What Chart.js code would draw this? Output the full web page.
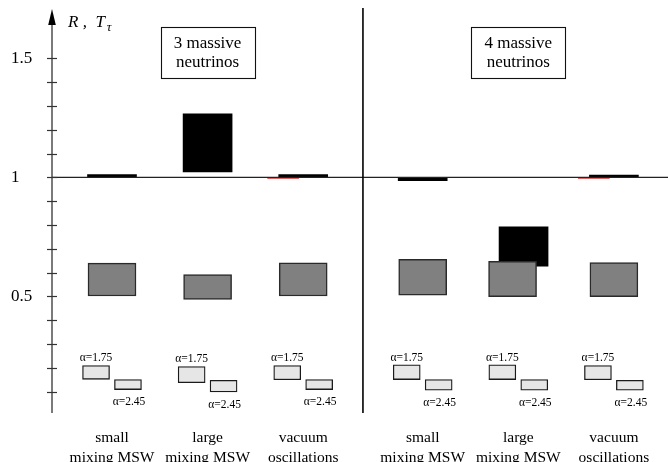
<!DOCTYPE html>
<html>
<head>
<meta charset="utf-8">
<script src="https://cdn.jsdelivr.net/npm/chart.js@4"></script>
<style>
  html, body { margin: 0; padding: 0; background: #fff; }
  #wrap { width: 668px; height: 462px; position: relative; }
</style>
</head>
<body>
<div id="wrap"><canvas id="c"></canvas></div>
<script>
// ---- data ----
const groupPos = [1, 2, 3, 4.25, 5.25, 6.25];
const groupLabels = [
  ["small", "mixing MSW"], ["large", "mixing MSW"], ["vacuum", "oscillations"],
  ["small", "mixing MSW"], ["large", "mixing MSW"], ["vacuum", "oscillations"]
];
const panelTitles = [["3 massive", "neutrinos"], ["4 massive", "neutrinos"]];
const panelTitleAt = [2, 5.25];

// R (gray boxes)
const grayLow  = [0.502, 0.488, 0.502, 0.505, 0.499, 0.499];
const grayHigh = [0.640, 0.592, 0.641, 0.656, 0.648, 0.642];
// T_tau (black boxes)
const blackLow  = [1.000, 1.023, 1.000, 0.987, 0.627, 1.000];
const blackHigh = [1.012, 1.267, 1.012, 1.000, 0.793, 1.010];
// alpha = 1.75 boxes
const a175Low  = [0.152, 0.138, 0.150, 0.151, 0.151, 0.150];
const a175High = [0.210, 0.206, 0.210, 0.213, 0.213, 0.210];
// alpha = 2.45 boxes
const a245Low  = [0.109, 0.099, 0.109, 0.106, 0.106, 0.106];
const a245High = [0.151, 0.148, 0.151, 0.151, 0.151, 0.148];
// faint red marks at 1 (vacuum oscillations only)
const redGroups = [2, 5];
const redLow  = [0.995, 0.995];
const redHigh = [1.000, 1.000];

const alphaNames = ["\u03b1=1.75", "\u03b1=2.45"];
const yLabelTicks = [0.5, 1, 1.5];
const yMinorStep = 0.1, yMinorMax = 1.5;
const dividerAt = 3.625;
const refLine = 1;

// ---- build ----
const nudgeGray  = [0, 0, 0, 0, -0.06, 0];
const nudgeBlack = [0, 0, 0, 0, 0.055, 0];
const pair = (lo, hi, shift, nudge) => groupPos.map((g, i) => ({x: g + shift + (nudge ? nudge[i] : 0), y: [lo[i], hi[i]]}));

const datasets = [
  { label: 'red', data: redGroups.map((gi, k) => ({x: groupPos[gi] - 0.21, y: [redLow[k], redHigh[k]]})),
    backgroundColor: '#e06666', borderWidth: 0, barThickness: 31, order: 4 },
  { label: 'black', data: pair(blackLow, blackHigh, 0, nudgeBlack),
    backgroundColor: '#000', borderColor: '#000', borderWidth: 0, barThickness: 49, order: 3 },
  { label: 'gray', data: pair(grayLow, grayHigh, 0, nudgeGray),
    backgroundColor: '#808080', borderColor: '#2a2a2a', borderWidth: 1.5, borderSkipped: false, barThickness: 48, order: 2 },
  { label: 'a175', data: pair(a175Low, a175High, -0.167),
    backgroundColor: '#e6e6e6', borderColor: '#1a1a1a', borderWidth: 1.3, borderSkipped: false, barThickness: 27, order: 1 },
  { label: 'a245', data: pair(a245Low, a245High, 0.167),
    backgroundColor: '#e6e6e6', borderColor: '#1a1a1a', borderWidth: 1.3, borderSkipped: false, barThickness: 27, order: 1 }
];

const SERIF = '"Liberation Serif", "DejaVu Serif", serif';

const overlay = {
  id: 'overlay',
  afterDatasetsDraw(chart) {
    const ctx = chart.ctx;
    const xs = chart.scales.x, ys = chart.scales.y;
    const ca = chart.chartArea;
    const ax = ca.left;
    const yBottom = ys.getPixelForValue(0.01);
    ctx.save();
    ctx.strokeStyle = '#111';
    ctx.fillStyle = '#000';
    // horizontal reference line
    ctx.lineWidth = 1.2;
    ctx.strokeStyle = '#222';
    ctx.beginPath();
    ctx.moveTo(ax, ys.getPixelForValue(refLine));
    ctx.lineTo(ca.right, ys.getPixelForValue(refLine));
    ctx.stroke();
    // divider
    ctx.strokeStyle = '#000';
    ctx.lineWidth = 1.6;
    const dx = xs.getPixelForValue(dividerAt);
    ctx.beginPath();
    ctx.moveTo(dx, 8);
    ctx.lineTo(dx, yBottom);
    ctx.stroke();
    // y axis line
    ctx.strokeStyle = '#333';
    ctx.lineWidth = 1.3;
    ctx.beginPath();
    ctx.moveTo(ax, 20);
    ctx.lineTo(ax, yBottom);
    ctx.stroke();
    // arrow
    ctx.beginPath();
    ctx.moveTo(ax, 9);
    ctx.lineTo(ax - 3.8, 25);
    ctx.lineTo(ax + 3.8, 25);
    ctx.closePath();
    ctx.fill();
    // ticks crossing the axis
    ctx.lineWidth = 1.2;
    for (let v = yMinorStep; v <= yMinorMax + 1e-9; v += yMinorStep) {
      const py = Math.round(ys.getPixelForValue(v)) + 0.5;
      ctx.beginPath();
      ctx.moveTo(ax - 5, py);
      ctx.lineTo(ax + 5, py);
      ctx.stroke();
    }
    // axis title R, T_tau
    ctx.fillStyle = '#000';
    ctx.textBaseline = 'alphabetic';
    ctx.textAlign = 'left';
    ctx.font = 'italic 17px ' + SERIF;
    ctx.fillText('R ,  T', 68, 27);
    const w = ctx.measureText('R ,  T').width;
    ctx.font = 'italic 13px ' + SERIF;
    ctx.fillText('\u03c4', 68 + w + 2, 31);
    // panel title boxes
    ctx.font = '17px ' + SERIF;
    ctx.textAlign = 'center';
    ctx.textBaseline = 'middle';
    panelTitles.forEach((lines, i) => {
      const cx = xs.getPixelForValue(panelTitleAt[i]);
      const cy = 52.5;
      ctx.strokeStyle = '#111';
      ctx.lineWidth = 1.1;
      ctx.strokeRect(Math.round(cx - 47) + 0.5, Math.round(cy - 26) + 0.5, 94, 51);
      ctx.fillText(lines[0], cx, cy - 9);
      ctx.fillText(lines[1], cx, cy + 10);
    });
    // alpha labels
    ctx.font = '11.5px ' + SERIF;
    const m175 = chart.getDatasetMeta(3), m245 = chart.getDatasetMeta(4);
    m175.data.forEach(el => {
      ctx.textBaseline = 'bottom';
      ctx.fillText(alphaNames[0], el.x, Math.min(el.y, el.base) - 1.5);
    });
    m245.data.forEach(el => {
      ctx.textBaseline = 'top';
      ctx.fillText(alphaNames[1], el.x + 1, Math.max(el.y, el.base) + 7);
    });
    ctx.restore();
  }
};

new Chart(document.getElementById('c'), {
  type: 'bar',
  data: { datasets },
  options: {
    responsive: true,
    maintainAspectRatio: false,
    animation: false,
    events: [],
    layout: { padding: { left: 11, top: 10, right: 0, bottom: 0 } },
    plugins: { legend: { display: false }, tooltip: { enabled: false } },
    datasets: { bar: { grouped: false } },
    scales: {
      x: {
        type: 'linear',
        offset: false,
        min: 0.3724, max: 6.8159,
        grid: { display: false, drawTicks: false, offset: false },
        border: { display: false },
        afterBuildTicks: s => { s.ticks = groupPos.map(v => ({value: v})); },
        afterFit: s => { s.height = 46.5; },
        ticks: {
          autoSkip: false, maxRotation: 0, minRotation: 0,
          padding: 12,
          color: '#000',
          font: { family: SERIF, size: 15.5, lineHeight: 1.3 },
          callback: (v, i) => groupLabels[i]
        }
      },
      y: {
        min: 0, max: 1.69,
        grid: { display: false, drawTicks: false },
        border: { display: false },
        afterBuildTicks: s => { s.ticks = yLabelTicks.map(v => ({value: v})); },
        afterFit: s => { s.width = 41; },
        ticks: {
          crossAlign: 'far',
          color: '#000',
          font: { family: SERIF, size: 17 },
          callback: v => String(v)
        }
      }
    }
  },
  plugins: [overlay]
});
</script>
</body>
</html>
